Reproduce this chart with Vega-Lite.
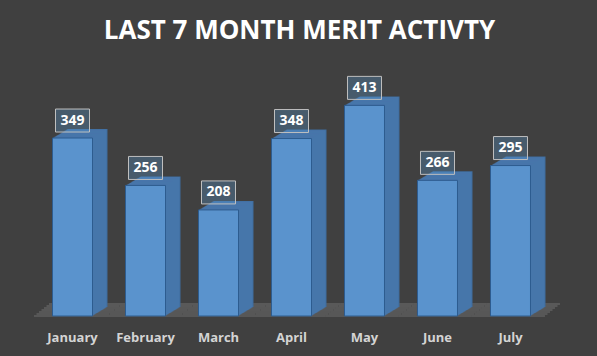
{
  "$schema": "https://vega.github.io/schema/vega-lite/v6.json",
  "autosize": {"type": "none"},
  "width": 541,
  "height": 256,
  "padding": {"left": 21, "top": 60, "right": 35, "bottom": 40},
  "background": "#404040",
  "config": {"view": {"stroke": null}},
  "title": {"text": "LAST 7 MONTH MERIT ACTIVTY", "font": "Open Sans", "fontSize": 26, "fontWeight": "bold", "color": "#FFFFFF", "anchor": "middle", "frame": "group", "offset": 16, "dx": 8},
  "data": {"values": [
    {"month": "January", "merit": 349},
    {"month": "February", "merit": 256},
    {"month": "March", "merit": 208},
    {"month": "April", "merit": 348},
    {"month": "May", "merit": 413},
    {"month": "June", "merit": 266},
    {"month": "July", "merit": 295}
  ]},
  "encoding": {
    "x": {"field": "month", "type": "nominal", "sort": null, "title": null,
      "scale": {"domain": ["January", "February", "March", "April", "May", "June", "July"], "paddingInner": 0, "paddingOuter": 0.2055},
      "axis": {"domain": false, "ticks": false, "labelAngle": 0, "labelPadding": 15, "labelFont": "Open Sans", "labelFontSize": 13, "labelFontWeight": "bold", "labelColor": "#D4D4D4", "grid": false}},
    "y": {"field": "merit", "type": "quantitative", "title": null, "scale": {"domain": [0, 502], "nice": false}, "axis": null}
  },
  "layer": [
    {"mark": {"type": "bar", "width": {"band": 1}, "color": "#575757", "xOffset": -2, "yOffset": 1, "y2Offset": -1}, "encoding": {"y": {"datum": 0}, "y2": {"datum": 0}}},
    {"mark": {"type": "bar", "width": {"band": 1}, "color": "#575757", "xOffset": 0.5, "yOffset": -1, "y2Offset": -3}, "encoding": {"y": {"datum": 0}, "y2": {"datum": 0}}},
    {"mark": {"type": "bar", "width": {"band": 1}, "color": "#575757", "xOffset": 3, "yOffset": -3, "y2Offset": -5}, "encoding": {"y": {"datum": 0}, "y2": {"datum": 0}}},
    {"mark": {"type": "bar", "width": {"band": 1}, "color": "#585858", "xOffset": 5.5, "yOffset": -5, "y2Offset": -7}, "encoding": {"y": {"datum": 0}, "y2": {"datum": 0}}},
    {"mark": {"type": "bar", "width": {"band": 1}, "color": "#585858", "xOffset": 8, "yOffset": -7, "y2Offset": -9}, "encoding": {"y": {"datum": 0}, "y2": {"datum": 0}}},
    {"mark": {"type": "bar", "width": {"band": 1}, "color": "#595959", "xOffset": 10.5, "yOffset": -9, "y2Offset": -11}, "encoding": {"y": {"datum": 0}, "y2": {"datum": 0}}},
    {"mark": {"type": "bar", "width": {"band": 1}, "color": "#595959", "xOffset": 13, "yOffset": -11, "y2Offset": -13}, "encoding": {"y": {"datum": 0}, "y2": {"datum": 0}}},
    {"mark": {"type": "bar", "width": 40, "color": "#3F6C9E", "xOffset": 15, "yOffset": -9, "y2Offset": -9}},
    {"mark": {"type": "bar", "width": 40, "color": "#4776AA", "xOffset": 14, "yOffset": -8.4, "y2Offset": -8.4}},
    {"mark": {"type": "bar", "width": 40, "color": "#4776AA", "xOffset": 13, "yOffset": -7.8, "y2Offset": -7.8}},
    {"mark": {"type": "bar", "width": 40, "color": "#4776AA", "xOffset": 12, "yOffset": -7.2, "y2Offset": -7.2}},
    {"mark": {"type": "bar", "width": 40, "color": "#4776AA", "xOffset": 11, "yOffset": -6.6, "y2Offset": -6.6}},
    {"mark": {"type": "bar", "width": 40, "color": "#4776AA", "xOffset": 10, "yOffset": -6, "y2Offset": -6}},
    {"mark": {"type": "bar", "width": 40, "color": "#4776AA", "xOffset": 9, "yOffset": -5.4, "y2Offset": -5.4}},
    {"mark": {"type": "bar", "width": 40, "color": "#4776AA", "xOffset": 8, "yOffset": -4.8, "y2Offset": -4.8}},
    {"mark": {"type": "bar", "width": 40, "color": "#4776AA", "xOffset": 7, "yOffset": -4.2, "y2Offset": -4.2}},
    {"mark": {"type": "bar", "width": 40, "color": "#4776AA", "xOffset": 6, "yOffset": -3.6, "y2Offset": -3.6}},
    {"mark": {"type": "bar", "width": 40, "color": "#4776AA", "xOffset": 5, "yOffset": -3, "y2Offset": -3}},
    {"mark": {"type": "bar", "width": 40, "color": "#4776AA", "xOffset": 4, "yOffset": -2.4, "y2Offset": -2.4}},
    {"mark": {"type": "bar", "width": 40, "color": "#4776AA", "xOffset": 3, "yOffset": -1.8, "y2Offset": -1.8}},
    {"mark": {"type": "bar", "width": 40, "color": "#4776AA", "xOffset": 2, "yOffset": -1.2, "y2Offset": -1.2}},
    {"mark": {"type": "bar", "width": 40, "color": "#4776AA", "xOffset": 1, "yOffset": -0.6, "y2Offset": -0.6}},
    {"mark": {"type": "bar", "width": 40, "fill": "#5A93CD", "stroke": "#2D5C8F", "strokeWidth": 1}},
    {"mark": {"type": "bar", "width": 34, "fill": "#5B9BD5", "fillOpacity": 0.3, "stroke": "#BFBFBF", "strokeWidth": 1, "yOffset": -6, "y2Offset": -29},
     "encoding": {"y2": {"field": "merit"}}},
    {"mark": {"type": "text", "font": "Open Sans", "fontSize": 14, "fontWeight": "bold", "color": "#FFFFFF", "baseline": "middle", "dy": -17.5},
     "encoding": {"text": {"field": "merit", "type": "quantitative"}}}
  ]
}
